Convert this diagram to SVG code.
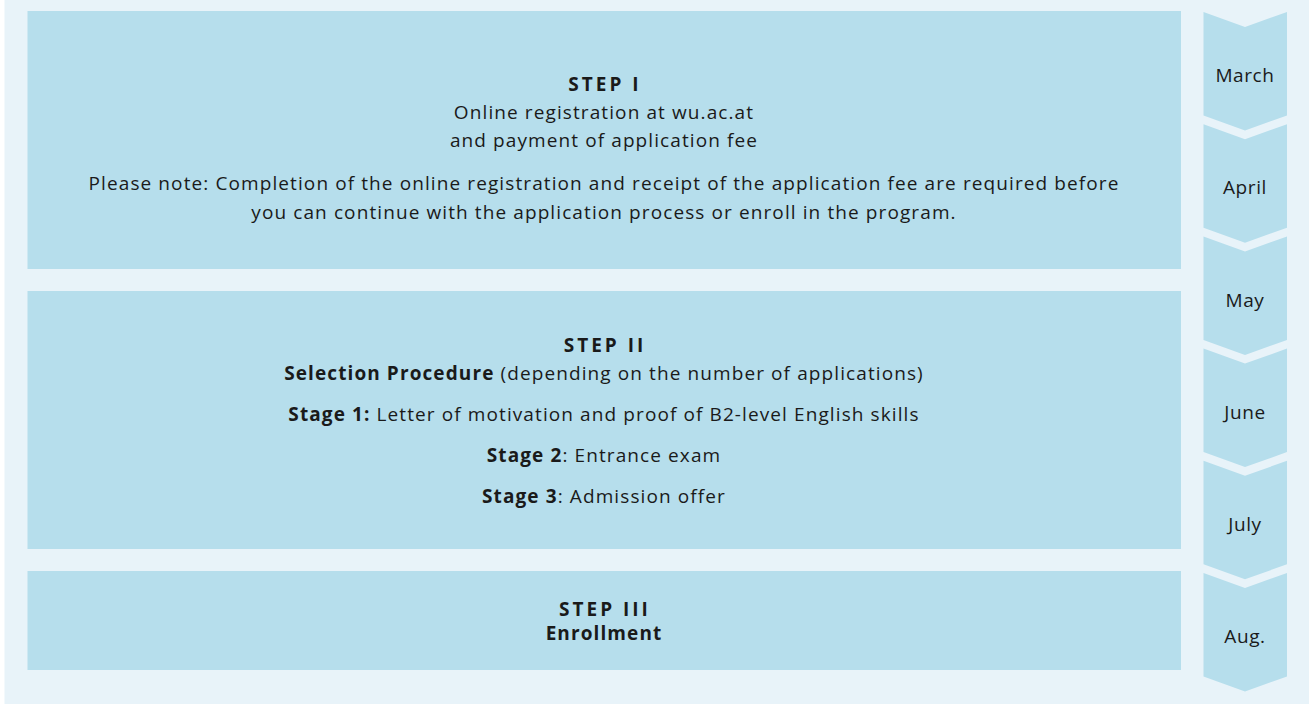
<svg xmlns="http://www.w3.org/2000/svg" width="1311" height="704" viewBox="0 0 1311 704">
<style>
.panel{fill:#e8f3f9}
.box{fill:#b6deec}
.chev{fill:#b6deec}
text{font-family:"Open Sans","Liberation Sans",sans-serif;fill:#1a1a1a;font-size:19px;letter-spacing:1.1px;text-anchor:middle}
.b{font-weight:bold}
.step{font-weight:bold;letter-spacing:3px;font-size:19px}
.m{letter-spacing:0.6px}
</style>
<rect width="1311" height="704" fill="#ffffff"/>
<rect class="panel" x="4.5" y="0" width="1304.5" height="704"/>
<g id="step1">
<rect class="box" x="27.5" y="11" width="1153.5" height="258"/>
<text class="step" x="605" y="91">STEP I</text>
<text x="604" y="119">Online registration at wu.ac.at</text>
<text x="604" y="147">and payment of application fee</text>
<text x="604" y="190">Please note: Completion of the online registration and receipt of the application fee are required before</text>
<text x="604" y="219">you can continue with the application process or enroll in the program.</text>
</g>
<g id="step2">
<rect class="box" x="27.5" y="291" width="1153.5" height="258"/>
<text class="step" x="605" y="352">STEP II</text>
<text x="604" y="380"><tspan class="b">Selection Procedure</tspan> (depending on the number of applications)</text>
<text x="604" y="421"><tspan class="b">Stage 1:</tspan> Letter of motivation and proof of B2-level English skills</text>
<text x="604" y="462"><tspan class="b">Stage 2</tspan>: Entrance exam</text>
<text x="604" y="503"><tspan class="b">Stage 3</tspan>: Admission offer</text>
</g>
<g id="step3">
<rect class="box" x="27.5" y="571" width="1153.5" height="99"/>
<text class="step" x="605" y="616">STEP III</text>
<text class="b" x="604" y="640">Enrollment</text>
</g>
<g id="timeline">
<g id="m-march"><path class="chev" d="M1203.5 12 L1245 27 L1287 12 L1287 115.5 L1245 130.5 L1203.5 115.5 Z"/><text class="m" x="1245" y="82">March</text></g>
<g id="m-april"><path class="chev" d="M1203.5 124.2 L1245 139.2 L1287 124.2 L1287 227.7 L1245 242.7 L1203.5 227.7 Z"/><text class="m" x="1245" y="194">April</text></g>
<g id="m-may"><path class="chev" d="M1203.5 236.4 L1245 251.4 L1287 236.4 L1287 339.9 L1245 354.9 L1203.5 339.9 Z"/><text class="m" x="1245" y="307">May</text></g>
<g id="m-june"><path class="chev" d="M1203.5 348.6 L1245 363.6 L1287 348.6 L1287 452.1 L1245 467.1 L1203.5 452.1 Z"/><text class="m" x="1245" y="419">June</text></g>
<g id="m-july"><path class="chev" d="M1203.5 460.8 L1245 475.8 L1287 460.8 L1287 564.3 L1245 579.3 L1203.5 564.3 Z"/><text class="m" x="1245" y="531">July</text></g>
<g id="m-aug"><path class="chev" d="M1203.5 573 L1245 588 L1287 573 L1287 676.5 L1245 691.5 L1203.5 676.5 Z"/><text class="m" x="1245" y="643">Aug.</text></g>
</g>
<g id="connectors"></g>
</svg>
